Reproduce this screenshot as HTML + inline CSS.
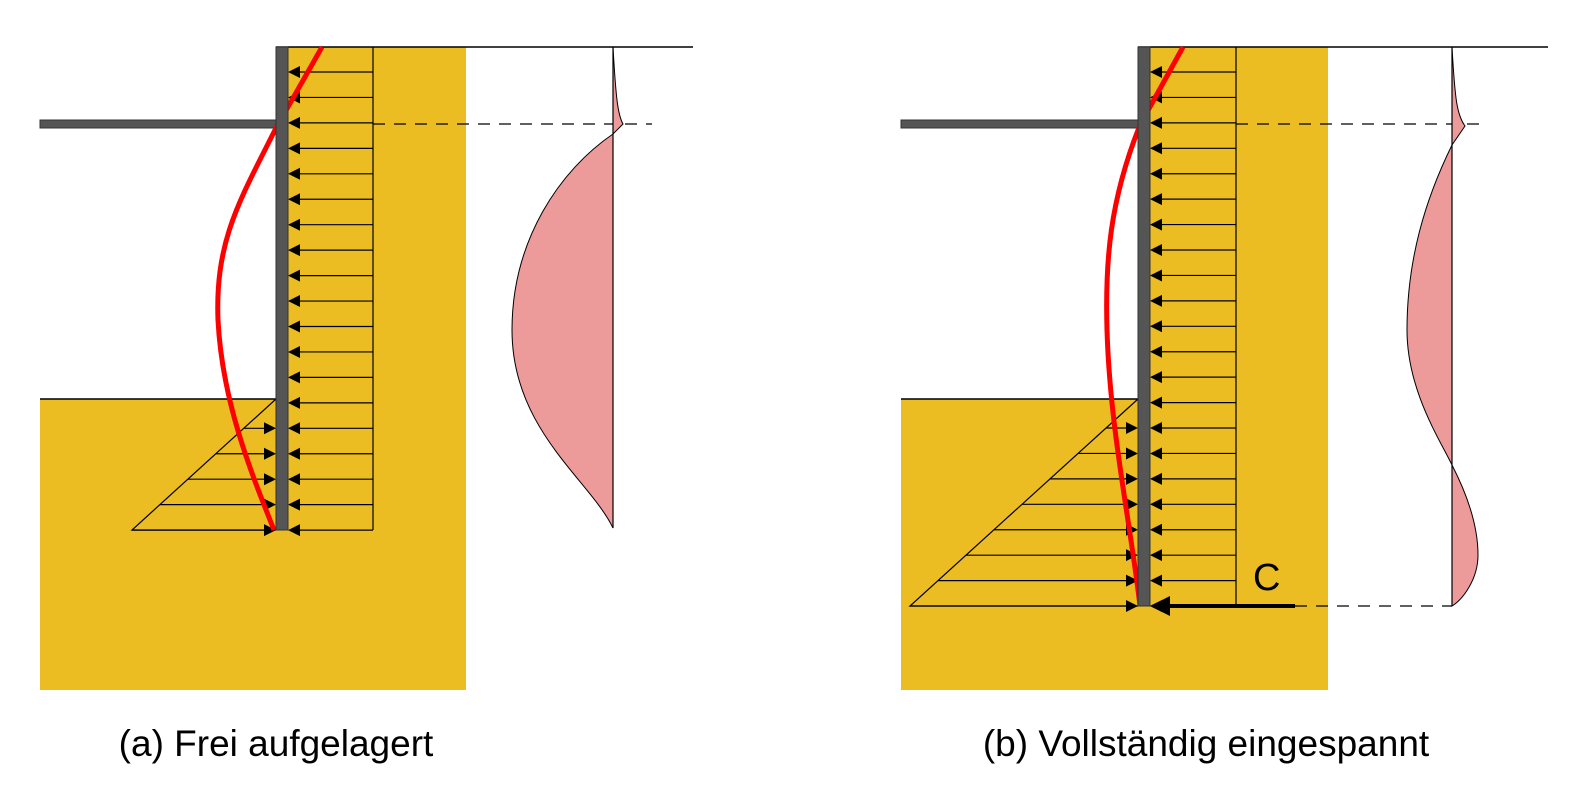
<!DOCTYPE html>
<html><head><meta charset="utf-8"><style>
html,body{margin:0;padding:0;background:#fff;}
svg{display:block;font-family:"Liberation Sans",sans-serif;}
</style></head><body>
<svg id="s" width="1590" height="790" viewBox="0 0 1590 790">
<!-- Panel A -->
<g>
<rect x="276" y="47" width="190" height="643" fill="#EBBD22"/>
<rect x="40" y="399" width="250" height="291" fill="#EBBD22"/>
<line x1="40" y1="399" x2="278" y2="399" stroke="#000" stroke-width="1.5"/>
<line x1="276" y1="47" x2="693" y2="47" stroke="#000" stroke-width="1.5"/>
<rect x="40" y="120" width="236" height="8" fill="#555" stroke="#333" stroke-width="1"/>
<line x1="373" y1="47" x2="373" y2="530" stroke="#000" stroke-width="1.2"/>
<g id="arrA"></g>
<polyline points="276,399 132,530 276,530" fill="none" stroke="#000" stroke-width="1.2"/>
<line x1="373" y1="124" x2="652" y2="124" stroke="#000" stroke-width="1.2" stroke-dasharray="12,9"/>
<path d="M613,47 C616,100 618,115 623,124 L613,134 C560,170 512,240 512,330 C512,430 590,480 613,528 Z" fill="#EC9A9A" stroke="#000" stroke-width="1"/>
<line x1="613" y1="47" x2="613" y2="528" stroke="#000" stroke-width="1.2"/>
<path d="M322,47 L276,128 C240,200 215,240 218,320 C222,400 250,470 274,530" fill="none" stroke="#f00" stroke-width="5"/>
<rect x="276" y="47" width="12" height="483" fill="#555" stroke="#333" stroke-width="1"/>
<text x="276" y="756" font-size="37" text-anchor="middle">(a) Frei aufgelagert</text>
</g>
<!-- Panel B -->
<g>
<rect x="1138" y="47" width="190" height="643" fill="#EBBD22"/>
<rect x="901" y="399" width="250" height="291" fill="#EBBD22"/>
<line x1="901" y1="399" x2="1140" y2="399" stroke="#000" stroke-width="1.5"/>
<line x1="1138" y1="47" x2="1548" y2="47" stroke="#000" stroke-width="1.5"/>
<rect x="901" y="120" width="237" height="8" fill="#555" stroke="#333" stroke-width="1"/>
<line x1="1236" y1="47" x2="1236" y2="606" stroke="#000" stroke-width="1.2"/>
<g id="arrB"></g>
<polyline points="1138,399 910,606 1138,606" fill="none" stroke="#000" stroke-width="1.2"/>
<line x1="1236" y1="124" x2="1485" y2="124" stroke="#000" stroke-width="1.2" stroke-dasharray="12,9"/>
<line x1="1295" y1="606" x2="1452" y2="606" stroke="#000" stroke-width="1.2" stroke-dasharray="12,9"/>
<path d="M1452,47 C1455,100 1457,115 1465,126 L1452,145 C1425,200 1407,260 1407,330 C1407,390 1440,440 1452,465 C1470,500 1478,530 1478,555 C1478,580 1462,600 1452,606 Z" fill="#EC9A9A" stroke="#000" stroke-width="1"/>
<line x1="1452" y1="47" x2="1452" y2="606" stroke="#000" stroke-width="1.2"/>
<path d="M1183,47 L1140,125 C1110,200 1105,260 1107,330 C1110,430 1130,520 1140,606" fill="none" stroke="#f00" stroke-width="5"/>
<rect x="1138" y="47" width="12" height="559" fill="#555" stroke="#333" stroke-width="1"/>
<line x1="1295" y1="606" x2="1170" y2="606" stroke="#000" stroke-width="4"/>
<path d="M1150,606 L1170,596 L1170,616 Z" fill="#000"/>
<text x="1253" y="590" font-size="38">C</text>
<text x="1206" y="756" font-size="37" text-anchor="middle">(b) Vollständig eingespannt</text>
</g>
</svg>
<script>
const ns="http://www.w3.org/2000/svg";
function arrows(gid,wallL,wallR,lineX,y0,step,n,tri){
  const g=document.getElementById(gid);
  for(let i=0;i<n;i++){
    const y=y0+i*step;
    const l=document.createElementNS(ns,'line');
    
    
    l.setAttribute('x1',lineX);l.setAttribute('y1',y);l.setAttribute('x2',wallR+12);l.setAttribute('y2',y);
    l.setAttribute('stroke','#000');l.setAttribute('stroke-width','1.2');
    g.appendChild(l);
    const p=document.createElementNS(ns,'path');
    p.setAttribute('d',`M${wallR},${y} L${wallR+12},${y-6} L${wallR+12},${y+6} Z`);
    g.appendChild(p);
    if(y>=tri.y0+20){
      const xs=tri.x0-(y-tri.y0)*tri.slope;
      const l2=document.createElementNS(ns,'line');
      
      
      l2.setAttribute('x1',xs);l2.setAttribute('y1',y);l2.setAttribute('x2',wallL-12);l2.setAttribute('y2',y);
      l2.setAttribute('stroke','#000');l2.setAttribute('stroke-width','1.2');
      g.appendChild(l2);
      const p2=document.createElementNS(ns,'path');
      p2.setAttribute('d',`M${wallL},${y} L${wallL-12},${y-6} L${wallL-12},${y+6} Z`);
      g.appendChild(p2);
    }
  }
}
arrows('arrA',276,288,373,72,25.45,19,{x0:276,y0:399,slope:144/131});
arrows('arrB',1138,1150,1236,72,25.43,22,{x0:1138,y0:399,slope:228/207});
</script>
</body></html>
